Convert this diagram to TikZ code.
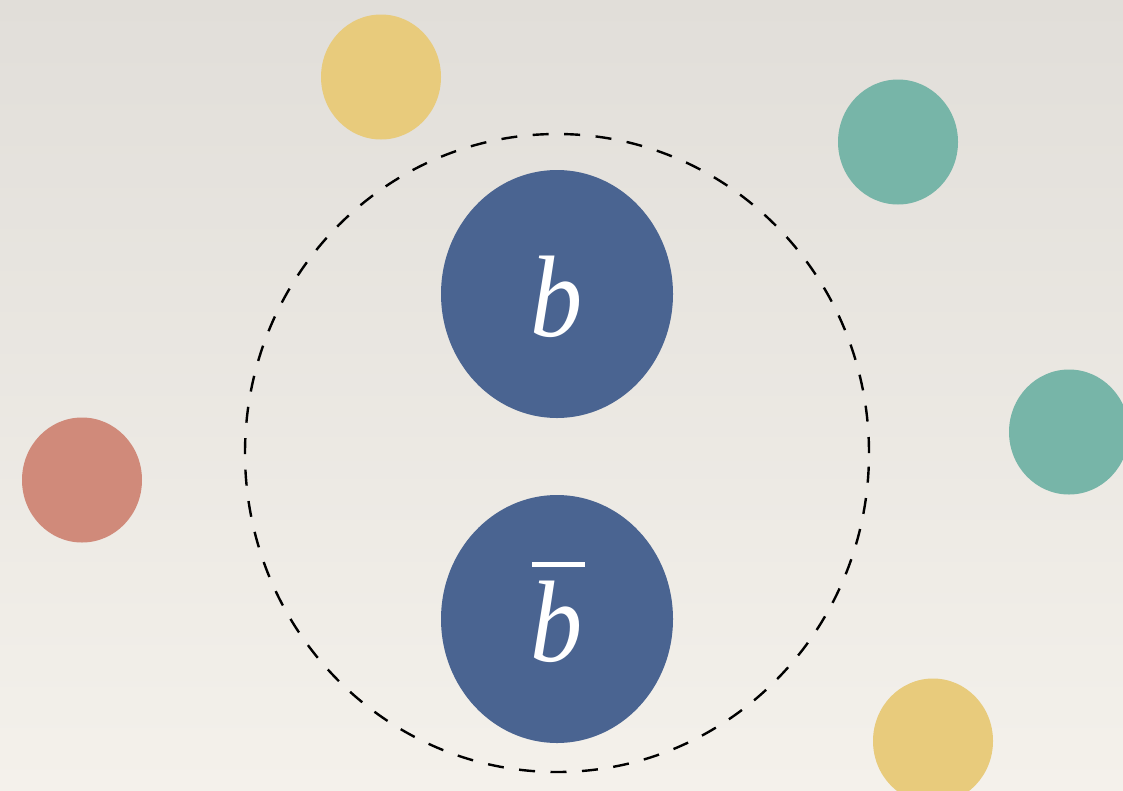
\documentclass[tikz,border=0pt]{standalone}
\usepackage{fontspec}
\setmainfont{Liberation Serif}
\usetikzlibrary{shapes.geometric}
\definecolor{bgtop}{HTML}{E1DED9}
\definecolor{bgbot}{HTML}{F4F1EB}
\definecolor{quarkblue}{HTML}{4A6491}
\definecolor{dotyellow}{HTML}{E8CB7C}
\definecolor{dotteal}{HTML}{77B5A8}
\definecolor{dotred}{HTML}{D08A7A}
\tikzset{
  dot/.style={ellipse, draw=none, minimum width=120pt, minimum height=125pt, inner sep=0pt},
  quark/.style={ellipse, draw=none, fill=quarkblue, minimum width=232pt, minimum height=248pt, inner sep=0pt},
  lbl/.style={text=white, inner sep=0pt, font=\fontsize{116}{116}\selectfont\itshape},
  hull/.style={ellipse, draw=black, line width=2.4pt, dash pattern=on 16pt off 15.5pt, minimum width=624pt, minimum height=638pt, inner sep=0pt},
  barline/.style={draw=white, line width=5pt}
}
\begin{document}
\begin{tikzpicture}[x=1pt,y=-1pt]
\useasboundingbox (0,0) rectangle (1123,790);
\clip (0,0) rectangle (1123,790);
\shade[top color=bgtop, bottom color=bgbot] (0,0) rectangle (1123,790);
\node[dot, fill=dotyellow] (y1) at (381,77) {};
\node[dot, fill=dotteal] (t1) at (898,142) {};
\node[dot, fill=dotteal] (t2) at (1069,432) {};
\node[dot, fill=dotred] (r1) at (82,480) {};
\node[dot, fill=dotyellow] (y2) at (933,741) {};
\node[hull] (hull) at (557,453) {};
\node[quark] (bq) at (557,294) {};
\node[quark] (bbar) at (557,619) {};
\node[lbl, xscale=0.9] (bl) at (557,297) {b};
\node[lbl, xscale=0.9] (bbarl) at (557,622) {b};
\draw[barline] ([xshift=-25pt,yshift=17pt]bbarl.north) -- ([xshift=28pt,yshift=17pt]bbarl.north);
\end{tikzpicture}
\end{document}
